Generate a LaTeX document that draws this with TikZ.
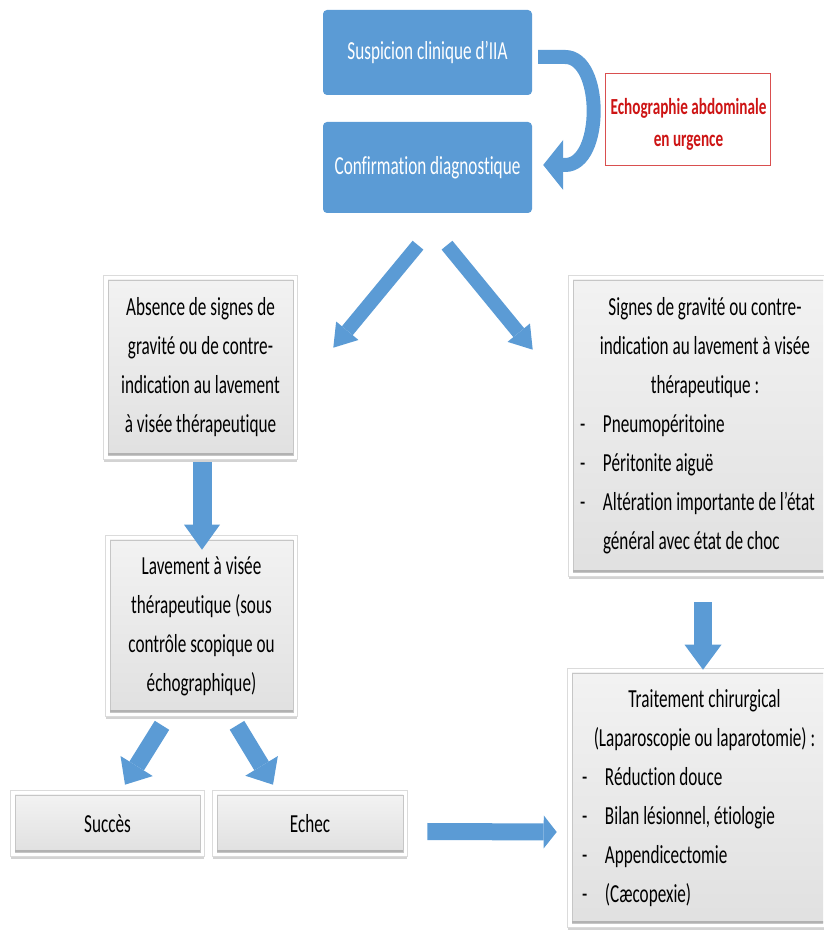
\documentclass[tikz,border=0pt]{standalone}
\usepackage{fontspec}
\setmainfont{Carlito}[FakeStretch=0.66, Ligatures={NoCommon}]
\usetikzlibrary{arrows.meta,shadows,backgrounds,calc}
\definecolor{bl}{RGB}{91,155,213}
\definecolor{rd}{RGB}{205,20,20}
\newcommand\myfs{\fontsize{26}{39}\selectfont}
\newcommand\myredfs{\fontsize{23}{32}\selectfont}
\newcommand\itemA[1]{\makebox[254pt][l]{\makebox[25pt][l]{\hspace{2pt}-}#1}}
\newcommand\itemB[1]{\makebox[255pt][l]{\makebox[28pt][l]{\hspace{5pt}-}#1}}
\tikzset{
  bluebox/.style={rectangle, rounded corners=4pt, fill=bl, text=white, minimum width=209pt, inner sep=0pt, font=\myfs},
  graybox/.style={rectangle, top color=gray!10, bottom color=gray!24, draw=gray!45, line width=0.6pt, inner sep=0pt, align=center, font=\myfs},
  frame/.style={draw=gray!28, line width=0.6pt, fill=white, drop shadow={shadow xshift=0pt, shadow yshift=-3pt, opacity=0.35}},
  fat/.style n args={3}{draw=bl, line width=#1, -{Triangle[width=#2, length=#3, line width=0pt]}}
}
\begin{document}
\begin{tikzpicture}[x=1pt,y=1pt]
\useasboundingbox (0,0) rectangle (823,930);
\clip (0,0) rectangle (823,930);
% top blue boxes
\node[bluebox, minimum height=85pt] (sus) at (427.5,877.5) {Suspicion clinique d’IIA};
\node[bluebox, minimum height=91pt] (conf) at (427.5,762.5) {Confirmation diagnostique};
% red box
\node[draw=rd!75, line width=0.8pt, minimum width=165pt, minimum height=92pt, inner sep=0pt] (echo) at (687.5,811) {};
\node[text=rd, font=\bfseries\myredfs, align=center, inner sep=0pt] (echot) at ($(echo.center)+(1,-5)$) {Echographie abdominale\\en urgence};
% gray boxes
\node[graybox, minimum width=185pt, minimum height=175pt] (abs) at (200.5,562.5) {Absence de signes de\\gravité ou de contre-\\indication au lavement\\à visée thérapeutique};
\node[graybox, minimum width=183pt, minimum height=172pt] (lav) at (201.5,304) {Lavement à visée\\thérapeutique (sous\\contrôle scopique ou\\échographique)};
\node[graybox, minimum width=185pt, minimum height=57pt] (suc) at (107.5,106.5) {Succès};
\node[graybox, minimum width=186pt, minimum height=57pt] (ech) at (310,106.5) {Echec};
\node[graybox, minimum width=264pt, minimum height=292pt] (sig) at (705,504) {Signes de gravité ou contre-\\indication au lavement à visée\\thérapeutique :\\\itemA{Pneumopéritoine}\\\itemA{Péritonite aiguë}\\\itemA{Altération importante de l’état}\\\makebox[254pt][l]{\hspace{25pt}général avec état de choc}};
\node[graybox, minimum width=265pt, minimum height=250pt] (trt) at (704.5,132) {Traitement chirurgical\\(Laparoscopie ou laparotomie) :\\\itemB{Réduction douce}\\\itemB{Bilan lésionnel, étiologie}\\\itemB{Appendicectomie}\\\itemB{(Cæcopexie)}};
% frames and bottom bevel
\begin{scope}[on background layer]
\foreach \n in {abs,lav,suc,ech,sig,trt}{
  \draw[frame] ($(\n.south west)+(-4,-4)$) rectangle ($(\n.north east)+(4,4)$);
}
\end{scope}
\foreach \n in {abs,lav,suc,ech,sig,trt}{
  \draw[gray!60, line width=2pt] ($(\n.south west)+(0.5,1)$) -- ($(\n.south east)+(-0.5,1)$);
}
% curved arrow
\draw[fat={14pt}{50pt}{20pt}] ($(sus.east)+(6,-4.5)$) -- ++(27,0) .. controls +(38,0) and +(38,0) .. ($(conf.east)+(33,2.5)$) -- ($(conf.east)+(11,2.5)$);
% diagonal arrows
\draw[fat={14pt}{29pt}{22pt}] ($(conf.south)+(-9.5,-32)$) -- ($(abs.north east)+(40,-68)$);
\draw[fat={14pt}{29pt}{22pt}] ($(conf.south)+(19.5,-32)$) -- ($(sig.north west)+(-40,-70)$);
% down arrows
\draw[fat={19pt}{36pt}{25pt}] ($(abs.south)+(1.5,-7)$) -- ($(lav.north)+(0.5,-10)$);
\draw[fat={18pt}{37pt}{25pt}] ($(sig.south)+(-2,-30)$) -- ($(trt.north)+(-1.5,3)$);
% arrows to succes / echec
\draw[fat={17pt}{38pt}{22pt}] ($(lav.south)+(-39.5,-13)$) -- ($(suc.north)+(17.5,10)$);
\draw[fat={17pt}{38pt}{22pt}] ($(lav.south)+(35.5,-13)$) -- ($(ech.north)+(-37,10)$);
% horizontal arrow
\draw[fat={17pt}{33pt}{13pt}] ($(ech.east)+(24,-8)$) -- ($(trt.west)+(-15,-34)$);
\end{tikzpicture}
\end{document}
